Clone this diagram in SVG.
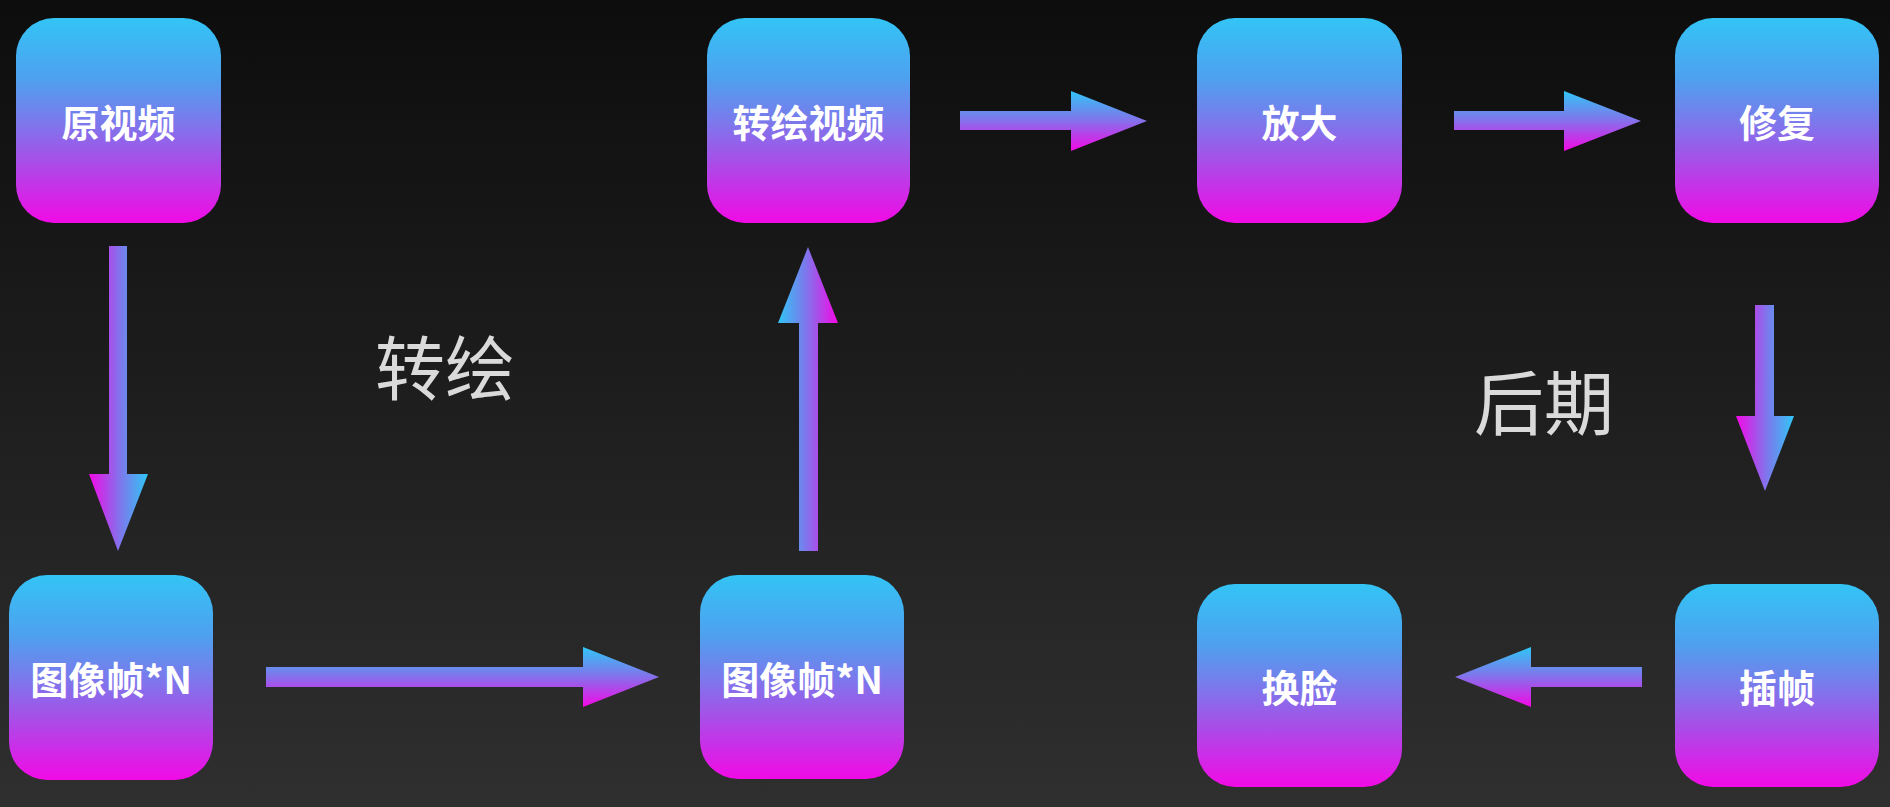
<svg xmlns="http://www.w3.org/2000/svg" width="1890" height="807" viewBox="0 0 1890 807">
  <defs>
    <linearGradient id="bg" x1="0" y1="0" x2="0" y2="1">
      <stop offset="0" stop-color="#0d0d0d"/>
      <stop offset="1" stop-color="#2f2f2f"/>
    </linearGradient>
    <!-- node fill: cyan at top, magenta at bottom -->
    <linearGradient id="nodeFill" x1="0" y1="0" x2="0" y2="1">
      <stop offset="0" stop-color="#33c4f5"/>
      <stop offset="0.3" stop-color="#4fa0ef"/>
      <stop offset="0.5" stop-color="#7a7aec"/>
      <stop offset="0.7" stop-color="#a84ee8"/>
      <stop offset="1" stop-color="#f20ae6"/>
    </linearGradient>
    <!-- arrow fills run across the arrow's width -->
    <linearGradient id="arrowTB" x1="0" y1="0" x2="0" y2="1">
      <stop offset="0" stop-color="#30c6f6"/>
      <stop offset="0.45" stop-color="#7b7aec"/>
      <stop offset="1" stop-color="#f408e6"/>
    </linearGradient>
    <linearGradient id="arrowLR" x1="0" y1="0" x2="1" y2="0">
      <stop offset="0" stop-color="#30c6f6"/>
      <stop offset="0.45" stop-color="#7b7aec"/>
      <stop offset="1" stop-color="#f408e6"/>
    </linearGradient>
    <linearGradient id="arrowRL" x1="1" y1="0" x2="0" y2="0">
      <stop offset="0" stop-color="#30c6f6"/>
      <stop offset="0.45" stop-color="#7b7aec"/>
      <stop offset="1" stop-color="#f408e6"/>
    </linearGradient>
  </defs>
  <style>
    .box { fill: url(#nodeFill); }
    .lbl { font-family: "Noto Sans CJK SC", "Noto Sans", "Liberation Sans", sans-serif; font-weight: bold; font-size: 38px; fill: #ffffff; text-anchor: middle; dominant-baseline: central; }
    .stage { font-family: "Noto Sans CJK SC", "Noto Sans", sans-serif; font-weight: normal; font-size: 70px; fill: #dadada; text-anchor: middle; dominant-baseline: central; }
  </style>

  <rect width="1890" height="807" fill="url(#bg)"/>

  <!-- stage captions -->
  <text class="stage" x="445" y="364">转绘</text>
  <text class="stage" x="1544" y="399">后期</text>

  <!-- connectors -->
  <g id="connectors">
    <polygon fill="url(#arrowRL)" points="109,246 127,246 127,474 148,474 118,551 89,474 109,474"/>
    <polygon fill="url(#arrowTB)" points="266,667 583,667 583,647 659,677 583,707 583,687 266,687"/>
    <polygon fill="url(#arrowLR)" points="799,551 799,323 778,323 808,247 838,323 818,323 818,551"/>
    <polygon fill="url(#arrowTB)" points="960,111 1071,111 1071,91 1147,121 1071,151 1071,130 960,130"/>
    <polygon fill="url(#arrowTB)" points="1454,111 1564,111 1564,91 1641,121 1564,151 1564,130 1454,130"/>
    <polygon fill="url(#arrowRL)" points="1755,305 1774,305 1774,416 1794,416 1765,491 1736,416 1755,416"/>
    <polygon fill="url(#arrowTB)" points="1642,667 1531,667 1531,647 1455,677 1531,707 1531,687 1642,687"/>
  </g>

  <g id="n-source">
    <rect class="box" x="16" y="18" width="205" height="205" rx="38"/>
    <text class="lbl" x="118.5" y="120.5">原视频</text>
  </g>
  <g id="n-frames-in">
    <rect class="box" x="9" y="575" width="204" height="205" rx="38"/>
    <text class="lbl" x="111" y="677.5">图像帧*N</text>
  </g>
  <g id="n-frames-out">
    <rect class="box" x="700" y="575" width="204" height="204" rx="38"/>
    <text class="lbl" x="802" y="677">图像帧*N</text>
  </g>
  <g id="n-redrawn">
    <rect class="box" x="707" y="18" width="203" height="205" rx="38"/>
    <text class="lbl" x="808.5" y="120.5">转绘视频</text>
  </g>
  <g id="n-upscale">
    <rect class="box" x="1197" y="18" width="205" height="205" rx="38"/>
    <text class="lbl" x="1299.5" y="120.5">放大</text>
  </g>
  <g id="n-repair">
    <rect class="box" x="1675" y="18" width="204" height="205" rx="38"/>
    <text class="lbl" x="1777" y="120.5">修复</text>
  </g>
  <g id="n-interp">
    <rect class="box" x="1675" y="584" width="204" height="203" rx="38"/>
    <text class="lbl" x="1777" y="685.5">插帧</text>
  </g>
  <g id="n-faceswap">
    <rect class="box" x="1197" y="584" width="205" height="203" rx="38"/>
    <text class="lbl" x="1299.5" y="685.5">换脸</text>
  </g>
</svg>
